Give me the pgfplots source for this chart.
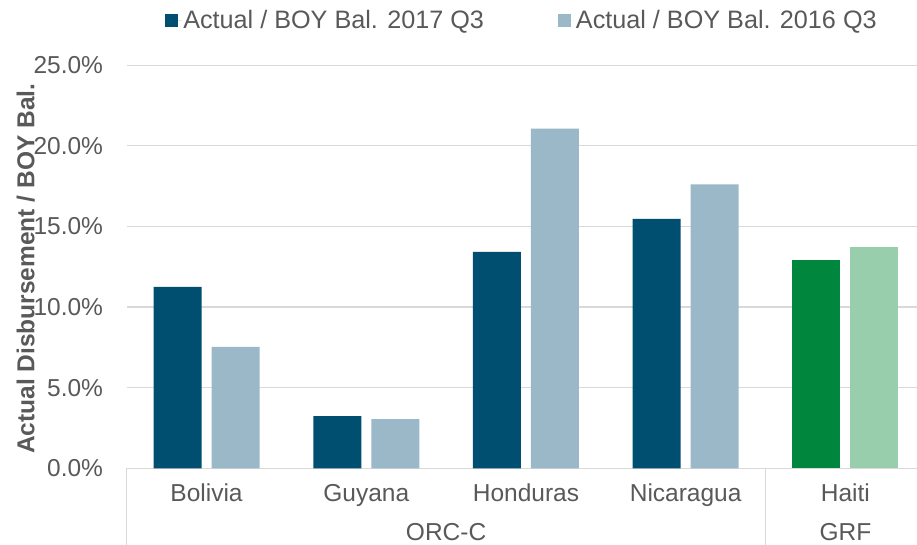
\documentclass[border=0pt]{standalone}
\usepackage{pgfplots}
\pgfplotsset{compat=1.18}
\usepackage{fontspec}
\setmainfont{Liberation Sans}
\usetikzlibrary{calc}

\definecolor{darkblue}{RGB}{0,79,113}
\definecolor{lightblue}{RGB}{154,184,199}
\definecolor{darkgreen}{RGB}{0,135,61}
\definecolor{lightgreen}{RGB}{153,206,172}
\definecolor{txtgray}{RGB}{89,89,89}
\definecolor{gridgray}{RGB}{217,217,217}

\begin{document}
\begin{tikzpicture}[font=\fontsize{24.5}{29}\selectfont]
\begin{axis}[
  x=159.7pt, y=16.12pt,
  xmin=-0.5, xmax=4.45, ymin=0, ymax=25,
  clip=false,
  axis line style={draw=none},
  tick style={draw=none},
  ymajorgrids=true,
  grid style={gridgray, line width=1.2pt},
  ytick={0,5,10,15,20,25},
  yticklabels={0.0\%,5.0\%,10.0\%,15.0\%,20.0\%,25.0\%},
  yticklabel style={anchor=east, inner sep=0pt, xshift=-23.5pt, text=txtgray},
  xtick={0,1,2,3,4},
  xticklabels={Bolivia,Guyana,Honduras,Nicaragua,Haiti},
  xticklabel style={anchor=base, inner sep=0pt, yshift=-33.4pt, text=txtgray},
  every axis y label/.style={at={(axis description cs:-0.1278,0.495)},
    rotate=90, anchor=center},
  ylabel={\bfseries Actual Disbursement / BOY Bal.},
  ylabel style={text=txtgray},
  legend style={at={(0.5,1)}, anchor=center, yshift=45pt, draw=none, fill=none,
    text=txtgray, legend columns=2, font=\fontsize{25.2}{30}\selectfont,
    /tikz/every even column/.append style={column sep=72pt}},
  legend image code/.code={\fill[#1] (0pt,-6.5pt) rectangle (13pt,6.5pt);
    \path (0pt,0pt) -- (16pt,0pt);},
]
% ORC-C countries
\addplot[ybar, bar width=48pt, bar shift=-29pt, fill=darkblue, draw=none]
  coordinates {(0,11.25) (1,3.24) (2,13.42) (3,15.47)};
\addlegendentry{Actual / BOY Bal. 2017 Q3}
\addplot[ybar, bar width=48pt, bar shift=29pt, fill=lightblue, draw=none]
  coordinates {(0,7.54) (1,3.05) (2,21.07) (3,17.62)};
\addlegendentry{Actual / BOY Bal. 2016 Q3}
% GRF
\addplot[ybar, bar width=48pt, bar shift=-29pt, fill=darkgreen, draw=none, forget plot]
  coordinates {(4,12.9)};
\addplot[ybar, bar width=48pt, bar shift=29pt, fill=lightgreen, draw=none, forget plot]
  coordinates {(4,13.73)};

% group separators and group names
\draw[gridgray, line width=1.2pt] (axis cs:-0.5,0) -- ++(0pt,-77pt);
\draw[gridgray, line width=1.2pt] (axis cs:3.5,0) -- ++(0pt,-77pt);
\node[anchor=base, inner sep=0pt, yshift=-72pt, text=txtgray] at (axis cs:1.5,0) {ORC-C};
\node[anchor=base, inner sep=0pt, yshift=-72pt, text=txtgray] at (axis cs:4,0) {GRF};
\coordinate (O) at (axis cs:-0.5,0);
\end{axis}
\pgfresetboundingbox
\path[use as bounding box] ($(O)+(-126.7pt,-76.7pt)$) rectangle ($(O)+(790.3pt,468.3pt)$);
\end{tikzpicture}
\end{document}
